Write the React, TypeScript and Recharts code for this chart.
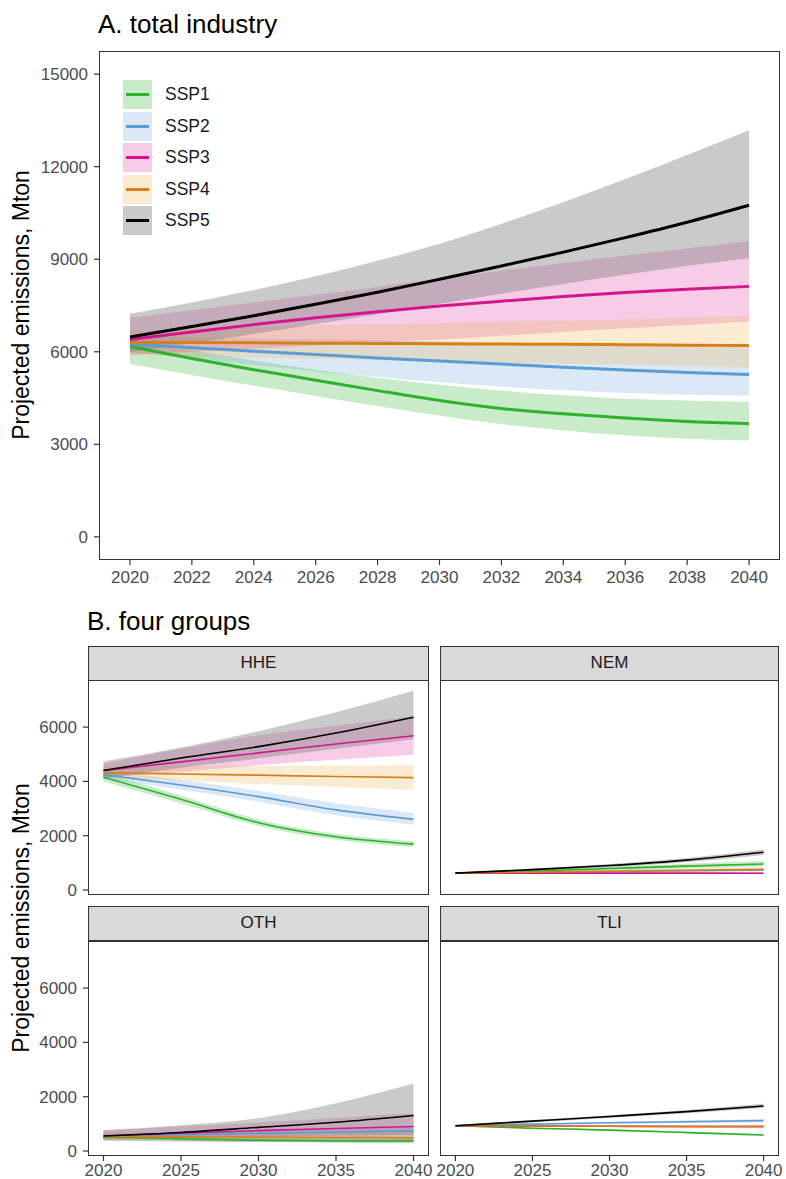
import React from "react"
import { ComposedChart, Line, Area, XAxis, YAxis } from "recharts"

const FONT = '"Liberation Sans", Arial, Helvetica, sans-serif'

const scenarios = ["SSP1", "SSP2", "SSP3", "SSP4", "SSP5"]
const lineColors = ["#2eb22e", "#5a9dd2", "#d4168c", "#d5801a", "#000000"]
const bandColors = ["#3cb83c", "#4a92d2", "#d4168c", "#efaa48", "#7a7a7a"]
const bandOpacity = [0.28, 0.2, 0.22, 0.24, 0.4]

// A. total industry
const yearsA = [2020, 2022, 2024, 2026, 2028, 2030, 2032, 2034, 2036, 2038, 2040]
const yTicksA = [0, 3000, 6000, 9000, 12000, 15000]

const totalSSP1 = {
  mid: [6170, 5780, 5420, 5080, 4740, 4420, 4160, 3990, 3850, 3740, 3670],
  lo: [5600, 5250, 4900, 4570, 4240, 3930, 3660, 3450, 3290, 3180, 3120],
  hi: [6400, 6050, 5720, 5420, 5150, 4930, 4740, 4590, 4480, 4420, 4380],
}
const totalSSP2 = {
  mid: [6250, 6130, 6020, 5910, 5800, 5700, 5600, 5500, 5410, 5330, 5260],
  lo: [6000, 5780, 5570, 5370, 5180, 5010, 4870, 4750, 4660, 4610, 4580],
  hi: [6500, 6470, 6440, 6410, 6370, 6330, 6290, 6250, 6210, 6180, 6150],
}
const totalSSP3 = {
  mid: [6400, 6640, 6880, 7100, 7300, 7480, 7640, 7790, 7920, 8030, 8120],
  lo: [5900, 6000, 6100, 6200, 6300, 6400, 6520, 6640, 6760, 6870, 6980],
  hi: [7100, 7350, 7600, 7850, 8100, 8380, 8630, 8880, 9120, 9350, 9580],
}
const totalSSP4 = {
  mid: [6300, 6300, 6290, 6280, 6270, 6260, 6250, 6240, 6230, 6210, 6200],
  lo: [5900, 5850, 5810, 5770, 5730, 5690, 5650, 5610, 5570, 5530, 5490],
  hi: [6700, 6750, 6800, 6850, 6890, 6930, 6970, 7010, 7050, 7100, 7140],
}
const totalSSP5 = {
  mid: [6480, 6820, 7170, 7540, 7930, 8350, 8780, 9230, 9700, 10200, 10750],
  lo: [6000, 6280, 6580, 6900, 7220, 7550, 7880, 8200, 8500, 8780, 9030],
  hi: [7230, 7600, 8000, 8450, 8950, 9500, 10150, 10850, 11600, 12380, 13180],
}

// B. four groups
const yearsB = [2020, 2025, 2030, 2035, 2040]
const yTicksB = [0, 2000, 4000, 6000]

const hheSSP1 = { mid: [4150, 3340, 2480, 1960, 1690], lo: [4000, 3200, 2360, 1850, 1580], hi: [4300, 3480, 2600, 2070, 1800] }
const hheSSP2 = { mid: [4250, 3870, 3440, 2950, 2600], lo: [4100, 3700, 3250, 2750, 2400], hi: [4400, 4050, 3650, 3200, 2850] }
const hheSSP3 = { mid: [4400, 4720, 5050, 5380, 5680], lo: [4150, 4350, 4600, 4800, 4980], hi: [4650, 5200, 5700, 6050, 6400] }
const hheSSP4 = { mid: [4320, 4270, 4230, 4180, 4140], lo: [4150, 4020, 3900, 3790, 3680], hi: [4550, 4570, 4580, 4590, 4600] }
const hheSSP5 = { mid: [4400, 4860, 5280, 5780, 6360], lo: [4100, 4500, 4850, 5200, 5550], hi: [4730, 5250, 5850, 6550, 7340] }

const nemSSP1 = { mid: [620, 700, 790, 880, 960], lo: [600, 650, 720, 790, 860], hi: [640, 750, 860, 970, 1070] }
const nemSSP2 = { mid: [620, 650, 680, 710, 740], lo: [600, 620, 640, 660, 680], hi: [640, 680, 720, 760, 800] }
const nemSSP3 = { mid: [620, 620, 620, 620, 615], lo: [600, 595, 590, 585, 580], hi: [640, 645, 650, 655, 660] }
const nemSSP4 = { mid: [620, 660, 690, 730, 760], lo: [600, 630, 650, 680, 700], hi: [640, 690, 730, 780, 820] }
const nemSSP5 = { mid: [620, 750, 900, 1100, 1390], lo: [600, 710, 840, 1020, 1290], hi: [640, 790, 960, 1180, 1490] }

const othSSP1 = { mid: [520, 450, 400, 380, 380], lo: [440, 380, 330, 310, 300], hi: [600, 520, 470, 460, 470] }
const othSSP2 = { mid: [540, 600, 650, 700, 740], lo: [460, 500, 540, 570, 600], hi: [620, 700, 770, 830, 880] }
const othSSP3 = { mid: [550, 660, 750, 830, 900], lo: [400, 480, 530, 570, 600], hi: [750, 900, 1050, 1220, 1390] }
const othSSP4 = { mid: [540, 520, 510, 500, 490], lo: [440, 400, 370, 350, 330], hi: [650, 650, 660, 680, 700] }
const othSSP5 = { mid: [550, 680, 870, 1060, 1310], lo: [380, 350, 330, 310, 300], hi: [770, 950, 1210, 1760, 2490] }

const tliSSP1 = { mid: [930, 840, 770, 680, 590], lo: [910, 815, 740, 645, 550], hi: [950, 865, 800, 715, 630] }
const tliSSP2 = { mid: [930, 990, 1040, 1080, 1120], lo: [910, 960, 1000, 1030, 1060], hi: [950, 1020, 1080, 1130, 1180] }
const tliSSP3 = { mid: [930, 920, 910, 905, 900], lo: [910, 895, 880, 870, 860], hi: [950, 945, 940, 940, 940] }
const tliSSP4 = { mid: [930, 920, 910, 900, 900], lo: [910, 890, 875, 860, 850], hi: [950, 950, 945, 945, 950] }
const tliSSP5 = { mid: [930, 1100, 1270, 1450, 1660], lo: [900, 1060, 1220, 1390, 1580], hi: [960, 1140, 1320, 1510, 1740] }

type Band = { mid: number[]; lo: number[]; hi: number[] }

function buildRows(years: number[], series: Band[]) {
  return years.map((year, i) => {
    const row: Record<string, unknown> = { year }
    series.forEach((s, k) => {
      row[`s${k}`] = s.mid[i]
      row[`b${k}`] = [s.lo[i], s.hi[i]]
    })
    return row
  })
}

const rowsA = buildRows(yearsA, [totalSSP1, totalSSP2, totalSSP3, totalSSP4, totalSSP5])
const rowsHHE = buildRows(yearsB, [hheSSP1, hheSSP2, hheSSP3, hheSSP4, hheSSP5])
const rowsNEM = buildRows(yearsB, [nemSSP1, nemSSP2, nemSSP3, nemSSP4, nemSSP5])
const rowsOTH = buildRows(yearsB, [othSSP1, othSSP2, othSSP3, othSSP4, othSSP5])
const rowsTLI = buildRows(yearsB, [tliSSP1, tliSSP2, tliSSP3, tliSSP4, tliSSP5])

const tickStyle = { fill: "#4d4d4d", fontSize: 17, fontFamily: FONT }

interface PanelProps {
  rows: Record<string, unknown>[]
  width: number
  height: number
  margin: { top: number; right: number; bottom: number; left: number }
  showX: boolean
  showY: boolean
  yAxisWidth: number
  xTicks: number[]
  xTickMargin: number
  yTicks: number[]
  yDomain: [number, number]
  lineWidth: number
}

function Panel(p: PanelProps) {
  return (
    <ComposedChart width={p.width} height={p.height} data={p.rows} margin={p.margin} style={{ overflow: "visible" }}>
      <XAxis
        dataKey="year"
        type="number"
        domain={[2019, 2041]}
        ticks={p.xTicks}
        interval={0}
        hide={!p.showX}
        height={30}
        tickSize={5}
        tickMargin={p.xTickMargin}
        axisLine={false}
        tickLine={{ stroke: "#333", strokeWidth: 1.2 }}
        tick={tickStyle}
      />
      <YAxis
        type="number"
        domain={p.yDomain}
        ticks={p.yTicks}
        interval={0}
        hide={!p.showY}
        width={p.yAxisWidth}
        tickSize={5}
        tickMargin={6}
        axisLine={false}
        tickLine={{ stroke: "#333", strokeWidth: 1.2 }}
        tick={tickStyle}
      />
      {scenarios.map((name, k) => (
        <Area
          key={`band-${name}`}
          dataKey={`b${k}`}
          type="monotone"
          stroke="none"
          fill={bandColors[k]}
          fillOpacity={bandOpacity[k]}
          isAnimationActive={false}
        />
      ))}
      {scenarios.map((name, k) => (
        <Line
          key={`line-${name}`}
          dataKey={`s${k}`}
          type="monotone"
          stroke={lineColors[k]}
          strokeWidth={p.lineWidth}
          dot={false}
          isAnimationActive={false}
        />
      ))}
    </ComposedChart>
  )
}

const abs = (left: number, top: number, width: number, height: number): React.CSSProperties => ({
  position: "absolute",
  left,
  top,
  width,
  height,
})

function Frame({ left, top, width, height }: { left: number; top: number; width: number; height: number }) {
  return <div style={{ ...abs(left, top, width, height), border: "1.5px solid #333", boxSizing: "border-box", pointerEvents: "none" }} />
}

function Strip({ left, top, width, label }: { left: number; top: number; width: number; label: string }) {
  return (
    <div
      style={{
        ...abs(left, top, width, 35),
        background: "#d9d9d9",
        border: "1.5px solid #333",
        boxSizing: "border-box",
        textAlign: "center",
        lineHeight: "32px",
        fontSize: 17,
        color: "#1a1a1a",
      }}
    >
      {label}
    </div>
  )
}

function YTitle({ x, y }: { x: number; y: number }) {
  return (
    <div
      style={{
        position: "absolute",
        left: x,
        top: y,
        transform: "translate(-50%, -50%) rotate(-90deg)",
        whiteSpace: "nowrap",
        fontSize: 23,
        color: "#000",
      }}
    >
      Projected emissions, Mton
    </div>
  )
}

export default function App() {
  const yDomainB: [number, number] = [-184, 7735]
  const noMargin = { top: 0, right: 0, bottom: 0, left: 0 }
  return (
    <div style={{ position: "absolute", left: 0, top: 0, width: 786, height: 1179, background: "#fff", fontFamily: FONT, overflow: "hidden" }}>
      <div style={{ position: "absolute", left: 98, top: 11, fontSize: 26, lineHeight: "26px", color: "#000" }}>A. total industry</div>

      <div style={abs(0, 0, 786, 590)}>
        <Panel
          rows={rowsA}
          width={786}
          height={590}
          margin={{ top: 51, right: 6, bottom: 0, left: 0 }}
          showX
          showY
          yAxisWidth={99}
          xTicks={yearsA}
          xTickMargin={6}
          yTicks={yTicksA}
          yDomain={[-750, 15750]}
          lineWidth={3}
        />
      </div>
      <Frame left={99} top={51} width={681} height={509} />
      <YTitle x={21} y={305} />

      {scenarios.map((name, k) => (
        <div key={name} style={{ position: "absolute", left: 123, top: 80 + k * 31.5, height: 29, display: "flex", alignItems: "center" }}>
          <div style={{ position: "relative", width: 29, height: 29 }}>
            <div style={{ position: "absolute", inset: 0, background: bandColors[k], opacity: bandOpacity[k] }} />
            <div style={{ position: "absolute", left: 3, top: 13, width: 23, height: 3, background: lineColors[k] }} />
          </div>
          <span style={{ marginLeft: 13, fontSize: 17.5, color: "#1a1a1a" }}>{name}</span>
        </div>
      ))}

      <div style={{ position: "absolute", left: 87, top: 608, fontSize: 26, lineHeight: "26px", color: "#000" }}>B. four groups</div>

      <div style={abs(0, 680, 429, 230)}>
        <Panel rows={rowsHHE} width={429} height={230} margin={{ ...noMargin, bottom: 15 }} showX={false} showY yAxisWidth={88} xTicks={yearsB} xTickMargin={3} yTicks={yTicksB} yDomain={yDomainB} lineWidth={1.6} />
      </div>
      <div style={abs(440, 680, 339, 230)}>
        <Panel rows={rowsNEM} width={339} height={230} margin={{ ...noMargin, bottom: 15 }} showX={false} showY={false} yAxisWidth={0} xTicks={yearsB} xTickMargin={3} yTicks={yTicksB} yDomain={yDomainB} lineWidth={1.6} />
      </div>
      <div style={abs(0, 941, 449, 245)}>
        <Panel rows={rowsOTH} width={449} height={245} margin={{ ...noMargin, right: 20 }} showX showY yAxisWidth={88} xTicks={yearsB} xTickMargin={3} yTicks={yTicksB} yDomain={yDomainB} lineWidth={1.6} />
      </div>
      <div style={abs(420, 941, 366, 245)}>
        <Panel rows={rowsTLI} width={366} height={245} margin={{ ...noMargin, left: 20, right: 7 }} showX showY={false} yAxisWidth={0} xTicks={yearsB} xTickMargin={3} yTicks={yTicksB} yDomain={yDomainB} lineWidth={1.6} />
      </div>

      <Strip left={88} top={646} width={341} label="HHE" />
      <Strip left={440} top={646} width={339} label="NEM" />
      <Strip left={88} top={906} width={341} label="OTH" />
      <Strip left={440} top={906} width={339} label="TLI" />
      <Frame left={88} top={680} width={341} height={215} />
      <Frame left={440} top={680} width={339} height={215} />
      <Frame left={88} top={941} width={341} height={215} />
      <Frame left={440} top={941} width={339} height={215} />
      <YTitle x={21} y={918} />
    </div>
  )
}
